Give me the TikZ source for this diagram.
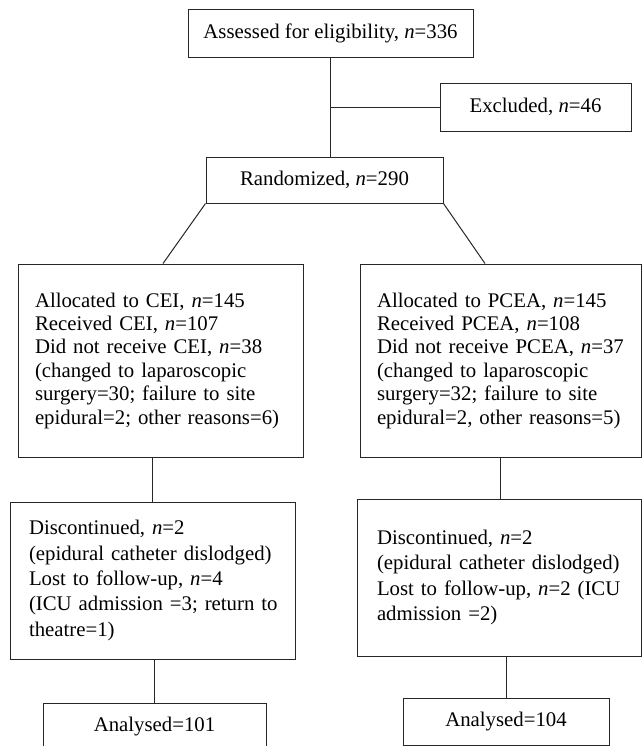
\documentclass[tikz,border=0pt]{standalone}
\usepackage{fontspec}
\setmainfont{Liberation Serif}
\tikzset{
  box/.style={draw=black!85, line width=0.5pt, inner sep=0pt,
    font=\fontsize{10.4}{11.7}\selectfont},
  lbox/.style={box, align=left, text width=#1},
  wide/.style={font=\fontsize{10.4}{12.7}\selectfont},
  link/.style={draw=black!85, line width=0.5pt}
}
\begin{document}
\begin{tikzpicture}[x=0.5pt,y=-0.5pt]
\clip (0,0) rectangle (643,746);
% top part
\node[box, minimum width=142.5pt, minimum height=24pt] (assess) at (330.5,33) {Assessed for eligibility, \textit{n}=336};
\node[box, minimum width=95.5pt, minimum height=24pt] (excl) at (535.5,107) {Excluded, \textit{n}=46};
\node[box, minimum width=118.5pt, minimum height=23pt] (rand) at (324.5,180) {Randomized, \textit{n}=290};
% allocation
\node[lbox=141.5pt, minimum width=142.5pt, minimum height=96.5pt] (alloccei) at (160.5,360.5) {\leftskip=8pt Allocated to CEI, \textit{n}=145\\Received CEI, \textit{n}=107\\Did not receive CEI, \textit{n}=38\\(changed to laparoscopic\\surgery=30; failure to site\\epidural=2; other reasons=6)\par};
\node[lbox=139.5pt, minimum width=140.5pt, minimum height=96.5pt] (allocpcea) at (500.5,360.5) {\leftskip=8pt Allocated to PCEA, \textit{n}=145\\Received PCEA, \textit{n}=108\\Did not receive PCEA, \textit{n}=37\\(changed to laparoscopic\\surgery=32; failure to site\\epidural=2, other reasons=5)\par};
% follow-up
\node[lbox=141.5pt, wide, minimum width=142.5pt, minimum height=78.5pt] (disccei) at (152.5,580.5) {\leftskip=9pt Discontinued, \textit{n}=2\\(epidural catheter dislodged)\\Lost to follow-up, \textit{n}=4\\(ICU admission =3; return to\\theatre=1)\par};
\node[lbox=141pt, wide, minimum width=142pt, minimum height=78.5pt] (discpcea) at (499,577.5) {\leftskip=9.5pt Discontinued, \textit{n}=2\\(epidural catheter dislodged)\\Lost to follow-up, \textit{n}=2 (ICU\\admission =2)\par};
% analysis
\node[box, minimum width=111.5pt, minimum height=24pt] (anacei) at (154.5,727) {Analysed=101};
\node[box, minimum width=103pt, minimum height=23.5pt] (anapcea) at (506,721.5) {Analysed=104};
% connectors
\path[link] (assess.south) -- (assess.south |- rand.north);
\path[link] (excl.west) -- (excl.west -| assess.south);
\path[link] (rand.south west) -- ([xshift=1.25pt]alloccei.north);
\path[link] (rand.south east) -- ([xshift=-7.75pt]allocpcea.north);
\path[link] (alloccei.south -| disccei.north) -- (disccei.north);
\path[link] (allocpcea.south) -- (allocpcea.south |- discpcea.north);
\path[link] (disccei.south -| anacei.north) -- (anacei.north);
\path[link] (anapcea.north |- discpcea.south) -- (anapcea.north);
\end{tikzpicture}
\end{document}
